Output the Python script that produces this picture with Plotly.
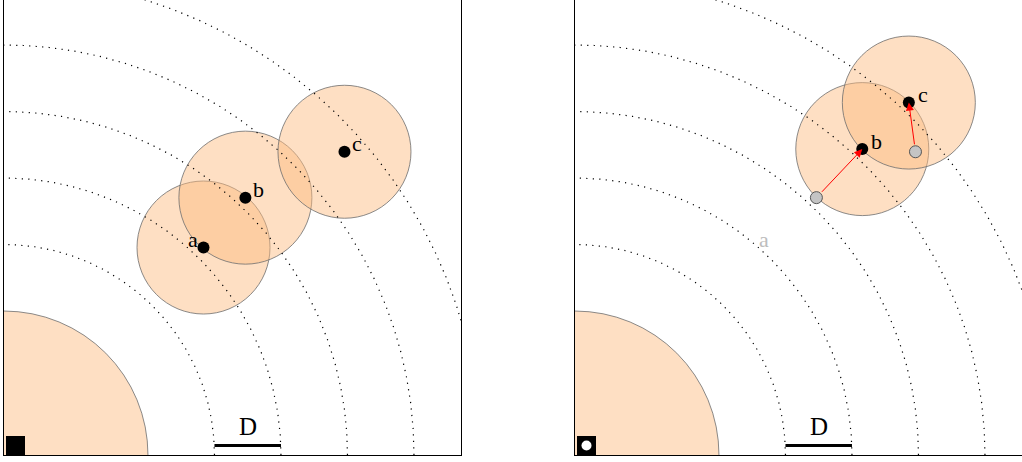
import numpy as np
import plotly.graph_objects as go

# ---------------- data (units of D) ----------------
core_radius = 2.165          # radius of the big central disc
ring_step = 1.0              # spacing of dotted shells (= D)
ring_count = 5
particle_radius = 1.0        # radius of each particle circle (= D)

before_labels = ["a", "b", "c"]
before_x = [3.00, 3.63, 5.12]
before_y = [3.12, 3.87, 4.56]

after_labels = ["b", "c"]
after_x = [4.32, 5.02]
after_y = [4.60, 5.30]
removed_label = "a"

scale_bar_start = 3.165
scale_bar_end = 4.165
scale_bar_y = 0.143
scale_label = "D"

# ---------------- layout constants ----------------
W, H = 1022, 462
PX = 66.5  # pixels per unit D
FILL = "rgba(252,188,128,0.47)"
EDGE = "rgba(110,110,110,0.8)"
SERIF = "Liberation Serif, Times New Roman, serif"

fig = go.Figure()

theta = np.linspace(0, np.pi / 2, 400)
rings = [core_radius + k * ring_step for k in range(1, ring_count + 1)]

shapes = []
annotations = []

def add_panel(xa, ya, px_list, py_list, labels):
    xr, yr = xa, ya
    # core disc
    shapes.append(dict(type="circle", xref=xr, yref=yr, layer="below",
                       x0=-core_radius, x1=core_radius, y0=-core_radius, y1=core_radius,
                       fillcolor=FILL, line=dict(color=EDGE, width=1)))
    # particle circles
    for cx, cy in zip(px_list, py_list):
        shapes.append(dict(type="circle", xref=xr, yref=yr, layer="below",
                           x0=cx - particle_radius, x1=cx + particle_radius,
                           y0=cy - particle_radius, y1=cy + particle_radius,
                           fillcolor=FILL, line=dict(color=EDGE, width=1)))
    # dotted shells
    for r in rings:
        fig.add_trace(go.Scatter(x=r * np.cos(theta), y=r * np.sin(theta), mode="lines",
                                 line=dict(color="black", width=1.2, dash="1.2px,5.3px"),
                                 xaxis=xa, yaxis=ya, hoverinfo="skip", showlegend=False))
    # scale bar
    fig.add_trace(go.Scatter(x=[scale_bar_start, scale_bar_end], y=[scale_bar_y, scale_bar_y],
                             mode="lines", line=dict(color="black", width=3),
                             xaxis=xa, yaxis=ya, hoverinfo="skip", showlegend=False))
    annotations.append(dict(x=(scale_bar_start + scale_bar_end) / 2, y=scale_bar_y,
                            xref=xr, yref=yr, text=scale_label, showarrow=False,
                            yanchor="bottom", yshift=3,
                            font=dict(family=SERIF, size=25, color="black")))

add_panel("x", "y", before_x, before_y, before_labels)
add_panel("x2", "y2", after_x, after_y, after_labels)

# left panel dots and labels
fig.add_trace(go.Scatter(x=before_x, y=before_y, mode="markers",
                         marker=dict(color="black", size=12),
                         xaxis="x", yaxis="y", hoverinfo="skip", showlegend=False))
for lab, x, y in zip(before_labels, before_x, before_y):
    left = lab == removed_label
    annotations.append(dict(x=x, y=y, xref="x", yref="y", text=lab, showarrow=False,
                            xanchor="right" if left else "left",
                            xshift=-4 if left else 6, yshift=8,
                            font=dict(family=SERIF, size=22, color="black")))

# right panel: old positions (gray), new positions (black), arrows
old_x = [before_x[before_labels.index(l)] for l in after_labels]
old_y = [before_y[before_labels.index(l)] for l in after_labels]
fig.add_trace(go.Scatter(x=old_x, y=old_y, mode="markers",
                         marker=dict(color="#c4c4c4", size=12, line=dict(color="#555555", width=1)),
                         xaxis="x2", yaxis="y2", hoverinfo="skip", showlegend=False))
fig.add_trace(go.Scatter(x=after_x, y=after_y, mode="markers",
                         marker=dict(color="black", size=12),
                         xaxis="x2", yaxis="y2", hoverinfo="skip", showlegend=False))
for ox, oy, nx, ny in zip(old_x, old_y, after_x, after_y):
    annotations.append(dict(x=nx, y=ny, ax=ox, ay=oy, xref="x2", yref="y2",
                            axref="x2", ayref="y2", text="", showarrow=True,
                            arrowhead=2, arrowsize=1.6, arrowwidth=1, arrowcolor="red",
                            standoff=0, startstandoff=6))
for lab, x, y in zip(after_labels, after_x, after_y):
    annotations.append(dict(x=x, y=y, xref="x2", yref="y2", text=lab, showarrow=False,
                            xanchor="left", xshift=7, yshift=8,
                            font=dict(family=SERIF, size=22, color="black")))
ri = before_labels.index(removed_label)
annotations.append(dict(x=before_x[ri], y=before_y[ri], xref="x2", yref="y2", text=removed_label,
                        showarrow=False, xanchor="right", xshift=-4, yshift=8,
                        font=dict(family=SERIF, size=22, color="#bdbdbd")))

# corner symbols
corner_x, corner_y = [0.173], [0.143]
fig.add_trace(go.Scatter(x=corner_x, y=corner_y, mode="markers",
                         marker=dict(symbol="square", color="black", size=19),
                         xaxis="x", yaxis="y", hoverinfo="skip", showlegend=False, cliponaxis=False))
fig.add_trace(go.Scatter(x=corner_x, y=corner_y, mode="markers",
                         marker=dict(symbol="square", color="black", size=19),
                         xaxis="x2", yaxis="y2", hoverinfo="skip", showlegend=False, cliponaxis=False))
fig.add_trace(go.Scatter(x=corner_x, y=corner_y, mode="markers",
                         marker=dict(symbol="circle", color="white", size=10),
                         xaxis="x2", yaxis="y2", hoverinfo="skip", showlegend=False, cliponaxis=False))

ax_common = dict(showgrid=False, zeroline=False, showticklabels=False, ticks="",
                 showline=True, linecolor="black", linewidth=1)
fig.update_layout(
    width=W, height=H,
    margin=dict(l=0, r=0, t=0, b=0),
    paper_bgcolor="white", plot_bgcolor="white",
    showlegend=False,
    xaxis=dict(domain=[4 / W, 461 / W], range=[0, 457 / PX], **ax_common),
    yaxis=dict(domain=[7 / H, 1], range=[0, 455 / PX], mirror=True, **ax_common),
    xaxis2=dict(domain=[575 / W, 1], range=[0, 447 / PX], anchor="y2", **ax_common),
    yaxis2=dict(domain=[7 / H, 1], range=[0, 455 / PX], anchor="x2", **ax_common),
    shapes=shapes,
    annotations=annotations,
)

fig.write_html("out.html", config={"displayModeBar": False},
               post_script="document.body.style.margin='0px';document.body.style.padding='0px';")
